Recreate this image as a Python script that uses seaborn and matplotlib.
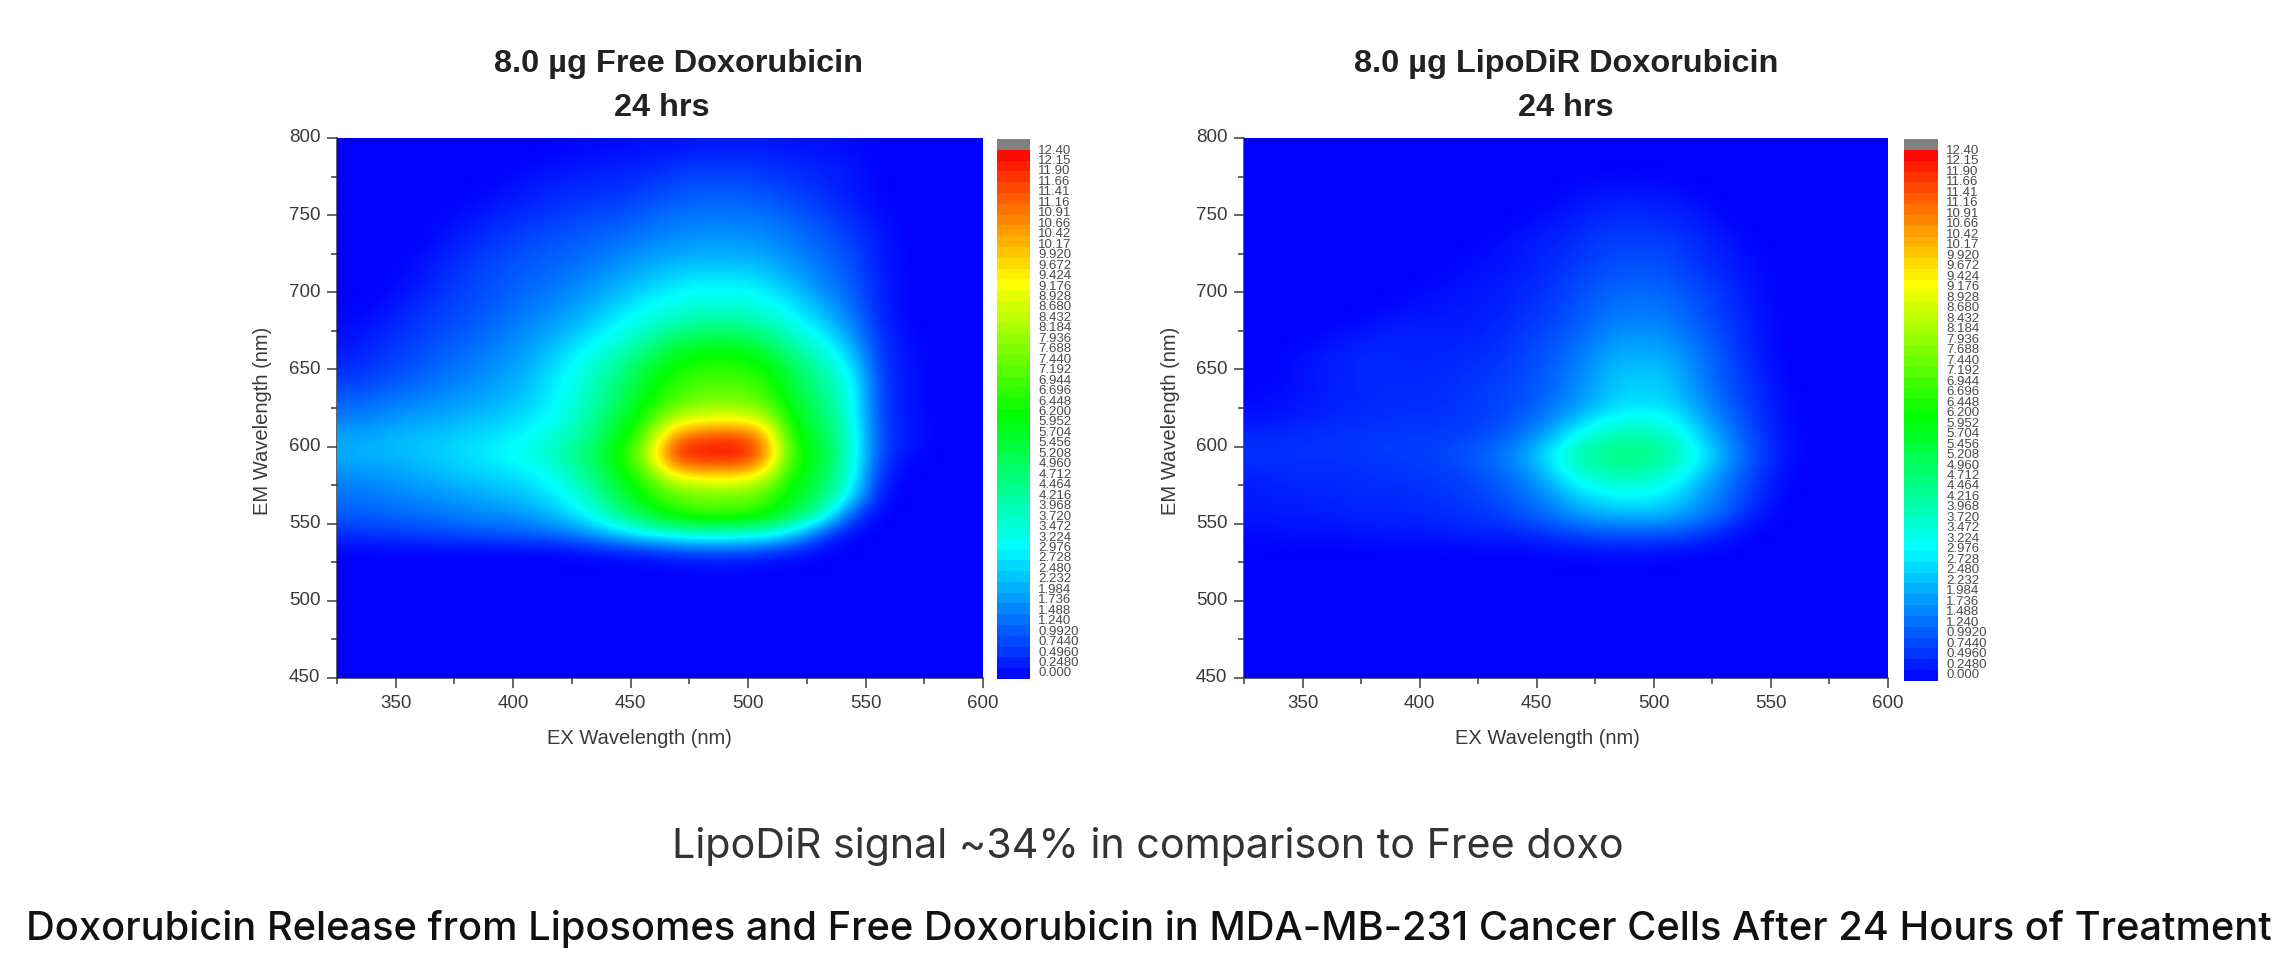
import numpy as np
import pandas as pd
import matplotlib
matplotlib.use("Agg")
import matplotlib.pyplot as plt
import seaborn as sns
from matplotlib.colors import LinearSegmentedColormap

# cell centres of the excitation / emission grid, nm
EX_NM = [331.25, 343.75, 356.25, 368.75, 381.25, 393.75, 406.25, 418.75, 431.25, 443.75, 456.25,
         468.75, 481.25, 493.75, 506.25, 518.75, 531.25, 543.75, 556.25, 568.75, 581.25, 593.75]
EM_NM = [793.75, 781.25, 768.75, 756.25, 743.75, 731.25, 718.75, 706.25, 693.75, 681.25, 668.75,
         656.25, 643.75, 631.25, 618.75, 606.25, 593.75, 581.25, 568.75, 556.25, 543.75, 531.25,
         518.75, 506.25, 493.75, 481.25, 468.75, 456.25]

BLANK = [0] * 22

FREE_DOXO = [
    [0, 0, 0, 0, 0, 0, 0, 0, .1, .1, .2, .2, .3, .3, .3, .2, .2, .1, 0, 0, 0, 0],
    [0, 0, 0, 0, 0, 0, .1, .2, .3, .4, .4, .6, .7, .7, .6, .5, .4, .3, 0, 0, 0, 0],
    [0, 0, 0, 0, 0, .1, .3, .4, .5, .5, .7, .9, 1, 1, .9, .7, .5, .3, 0, 0, 0, 0],
    [0, 0, 0, 0, .1, .3, .4, .6, .7, .8, 1, 1.2, 1.3, 1.3, 1.2, 1, .7, .4, .1, 0, 0, 0],
    [0, 0, 0, .1, .3, .5, .7, .8, 1, 1.1, 1.3, 1.5, 1.6, 1.6, 1.5, 1.3, 1, .6, .2, 0, 0, 0],
    [0, 0, 0, .2, .5, .7, .9, 1.1, 1.2, 1.4, 1.6, 1.8, 1.9, 1.9, 1.8, 1.5, 1.2, .8, .3, 0, 0, 0],
    [0, 0, .1, .4, .7, .9, 1.1, 1.2, 1.4, 1.7, 2, 2.2, 2.3, 2.3, 2.2, 1.8, 1.4, 1, .3, 0, 0, 0],
    [0, 0, .2, .5, .8, 1, 1.2, 1.4, 1.7, 2, 2.4, 2.7, 2.9, 2.9, 2.7, 2.2, 1.6, 1.1, .4, 0, 0, 0],
    [0, .1, .4, .7, .9, 1.1, 1.4, 1.6, 2, 2.4, 2.9, 3.2, 3.4, 3.4, 3.2, 2.7, 2, 1.3, .4, 0, 0, 0],
    [.1, .3, .6, .8, 1, 1.3, 1.6, 1.9, 2.3, 2.9, 3.4, 3.9, 4.2, 4.2, 3.9, 3.2, 2.5, 1.6, .5, 0, 0, 0],
    [.2, .5, .7, 1, 1.2, 1.5, 1.8, 2.2, 2.8, 3.4, 4.1, 5, 5.4, 5.4, 5, 3.9, 3.2, 2, .6, .1, 0, 0],
    [.4, .7, .9, 1.2, 1.4, 1.7, 2, 2.6, 3.3, 4, 5, 6, 6.3, 6.3, 6, 4.8, 3.8, 2.7, .6, .2, 0, 0],
    [.7, .9, 1.1, 1.4, 1.6, 1.9, 2.2, 2.9, 3.6, 4.5, 5.7, 6.5, 6.9, 6.9, 6.6, 5.3, 4.2, 3.2, .7, .2, 0, 0],
    [1.1, 1.3, 1.5, 1.7, 1.9, 2.1, 2.4, 3, 3.7, 4.8, 5.9, 6.9, 7.4, 7.4, 7.1, 5.6, 4.6, 3.4, .7, .2, 0, 0],
    [1.5, 1.7, 1.9, 2, 2.2, 2.4, 2.7, 3.2, 4, 5.2, 6.4, 8.2, 8.7, 8.8, 8.4, 6, 4.9, 3.5, .7, .2, 0, 0],
    [2, 2.1, 2.3, 2.4, 2.6, 2.8, 3.1, 3.6, 4.4, 5.6, 7.2, 10.8, 11.3, 11.5, 10.8, 6.2, 5.3, 3.7, .8, .3, 0, 0],
    [2.1, 2.2, 2.3, 2.5, 2.7, 3, 3.3, 3.9, 4.8, 6, 8, 11.9, 12, 12.1, 11.3, 6.6, 5.5, 3.7, .7, .1, 0, 0],
    [1.7, 1.8, 2, 2.2, 2.4, 2.6, 2.8, 3.3, 4.3, 5.6, 6.8, 9.2, 9.5, 9.6, 9, 6.1, 5.3, 3.5, .4, 0, 0, 0],
    [1.4, 1.5, 1.7, 1.8, 2, 2.2, 2.4, 2.9, 3.7, 5.1, 6.3, 7.1, 7.4, 7.4, 7.1, 5.8, 4.9, 3, .1, 0, 0, 0],
    [1.1, 1.2, 1.3, 1.4, 1.6, 1.7, 1.9, 2.3, 3.1, 4.2, 5.5, 6.5, 6.9, 6.9, 6.5, 5.3, 4.1, 1, 0, 0, 0, 0],
    [.6, .7, .8, .9, 1, 1.1, 1.2, 1.4, 1.8, 2.5, 3.1, 3.6, 3.8, 3.7, 3.5, 2.7, .9, 0, 0, 0, 0, 0],
    [0, 0, 0, 0, 0, 0, 0, 0, .1, .2, .3, .5, .7, .7, .5, .2, 0, 0, 0, 0, 0, 0],
] + [BLANK] * 6

LIPO_DOXO = [
    BLANK,
    BLANK,
    [0, 0, 0, 0, 0, 0, 0, 0, 0, 0, 0, .1, .2, .2, .1, 0, 0, 0, 0, 0, 0, 0],
    [0, 0, 0, 0, 0, 0, 0, 0, 0, 0, .1, .3, .4, .4, .4, .2, 0, 0, 0, 0, 0, 0],
    [0, 0, 0, 0, 0, 0, 0, 0, 0, .1, .3, .4, .6, .6, .5, .4, .1, 0, 0, 0, 0, 0],
    [0, 0, 0, 0, 0, 0, 0, 0, .1, .3, .4, .6, .8, .8, .8, .5, .3, 0, 0, 0, 0, 0],
    [0, 0, 0, 0, 0, 0, 0, .1, .2, .3, .5, .7, .9, 1, .9, .6, .4, .1, 0, 0, 0, 0],
    [0, 0, 0, 0, 0, 0, .1, .2, .3, .4, .6, .9, 1.1, 1.2, 1.1, .8, .5, .2, 0, 0, 0, 0],
    [0, 0, 0, 0, 0, .1, .2, .3, .3, .5, .7, 1, 1.3, 1.4, 1.3, 1, .6, .2, 0, 0, 0, 0],
    [0, 0, 0, 0, .2, .3, .3, .3, .4, .6, .8, 1.1, 1.5, 1.6, 1.5, 1.1, .7, .3, 0, 0, 0, 0],
    [0, 0, .1, .3, .4, .4, .4, .4, .5, .7, 1, 1.3, 1.8, 1.9, 1.8, 1.3, .8, .3, 0, 0, 0, 0],
    [0, .1, .3, .4, .5, .4, .4, .5, .6, .8, 1.1, 1.5, 2.1, 2.2, 2.1, 1.5, .9, .4, 0, 0, 0, 0],
    [0, .1, .3, .4, .5, .5, .5, .6, .7, .9, 1.2, 1.7, 2.3, 2.5, 2.4, 1.6, 1, .5, 0, 0, 0, 0],
    [.1, .2, .3, .4, .5, .5, .5, .6, .8, .9, 1.3, 1.8, 2.4, 2.6, 2.5, 1.8, 1.1, .6, .1, 0, 0, 0],
    [.2, .3, .4, .5, .5, .6, .6, .7, .8, 1.1, 1.6, 2.3, 3, 3.2, 3.1, 2.2, 1.3, .7, .1, 0, 0, 0],
    [.5, .5, .6, .6, .7, .7, .7, .8, 1, 1.4, 2.2, 3.4, 4, 4.1, 3.8, 2.7, 1.6, .8, .2, 0, 0, 0],
    [.6, .6, .6, .6, .7, .7, .8, 1, 1.3, 1.9, 3, 4.2, 4.6, 4.7, 4.3, 3.2, 1.9, .9, .2, 0, 0, 0],
    [.4, .5, .5, .5, .6, .6, .7, .8, 1.1, 1.5, 2.4, 3.5, 3.9, 3.9, 3.5, 2.5, 1.5, .7, .1, 0, 0, 0],
    [.3, .4, .4, .5, .5, .5, .6, .7, .9, 1.3, 1.8, 2.6, 3, 3.1, 2.8, 2, 1.3, .6, 0, 0, 0, 0],
    [.3, .3, .3, .4, .4, .4, .5, .6, .7, 1, 1.4, 1.9, 2.2, 2.3, 2.2, 1.7, 1.1, .3, 0, 0, 0, 0],
    [.1, .2, .2, .2, .3, .3, .3, .4, .4, .5, .7, .9, 1, 1, 1, .8, .3, 0, 0, 0, 0, 0],
    [0, 0, 0, 0, 0, 0, 0, 0, 0, 0, .1, .1, .2, .2, .1, 0, 0, 0, 0, 0, 0, 0],
] + [BLANK] * 6

LEVEL_LABELS = ["12.40", "12.15", "11.90", "11.66", "11.41", "11.16", "10.91", "10.66", "10.42", "10.17",
                "9.920", "9.672", "9.424", "9.176", "8.928", "8.680", "8.432", "8.184", "7.936", "7.688",
                "7.440", "7.192", "6.944", "6.696", "6.448", "6.200", "5.952", "5.704", "5.456", "5.208",
                "4.960", "4.712", "4.464", "4.216", "3.968", "3.720", "3.472", "3.224", "2.976", "2.728",
                "2.480", "2.232", "1.984", "1.736", "1.488", "1.240", "0.9920", "0.7440", "0.4960", "0.2480",
                "0.000"]
EX_TICKS = [350, 400, 450, 500, 550, 600]
EX_MINOR = [325, 375, 425, 475, 525, 575]
EM_TICKS = [450, 500, 550, 600, 650, 700, 750, 800]
EM_MINOR = [475, 525, 575, 625, 675, 725, 775]

W, H = 2276, 961
TEXT_COL = "#3a3a3a"

sns.set_theme(style="ticks")
plt.rcParams["font.family"] = ["Liberation Sans", "DejaVu Sans"]

cmap = LinearSegmentedColormap.from_list("ex_em", ["#0000ff", "#00ffff", "#00ff00", "#ffff00", "#ff0000"], N=512)
cmap_bar = cmap.copy()
cmap_bar.set_over("#808080")
cmap_map = cmap.copy()
cmap_map.set_over("#ff0000")
VMAX = 12.15


def box(x0, y0, x1, y1):
    return [x0 / W, 1 - y1 / H, (x1 - x0) / W, (y1 - y0) / H]


def draw_panel(fig, values, pos, cpos, title, title_x, hrs_x, xlabel_x, ylabel_x):
    ax = fig.add_axes(box(*pos))
    df = pd.DataFrame(values, index=EM_NM, columns=EX_NM)
    sns.heatmap(df, ax=ax, cmap=cmap_map, vmin=0, vmax=VMAX, cbar=False)
    # smooth layer on the same cells, the instrument software renders contours
    ax.imshow(df.values, cmap=cmap_map, vmin=0, vmax=VMAX, aspect="auto", interpolation="bicubic",
              extent=(0, len(EX_NM), len(EM_NM), 0), zorder=3)
    ax.set_xlim(0, len(EX_NM))
    ax.set_ylim(len(EM_NM), 0)

    to_x = lambda v: (np.array(v) - 325) / 12.5
    to_y = lambda v: (800 - np.array(v)) / 12.5
    ax.set_xticks(to_x(EX_TICKS), [str(v) for v in EX_TICKS], rotation=0)
    ax.set_xticks(to_x(EX_MINOR), minor=True)
    ax.set_yticks(to_y(EM_TICKS), [str(v) for v in EM_TICKS], rotation=0)
    ax.set_yticks(to_y(EM_MINOR), minor=True)
    ax.tick_params(axis="both", which="major", length=7, width=1.1, labelsize=13.5, colors=TEXT_COL, pad=5)
    ax.tick_params(axis="both", which="minor", length=4, width=1.1, color=TEXT_COL)
    for side in ["left", "bottom"]:
        ax.spines[side].set_visible(True)
        ax.spines[side].set_color(TEXT_COL)
        ax.spines[side].set_linewidth(1.1)
    ax.set_xlabel("EX Wavelength (nm)", fontsize=14.5, color=TEXT_COL, va="center")
    ax.set_ylabel("EM Wavelength (nm)", fontsize=14.5, color=TEXT_COL, va="center")
    ax.xaxis.set_label_coords(xlabel_x / W, 1 - 739 / H, transform=fig.transFigure)
    ax.yaxis.set_label_coords(ylabel_x / W, 1 - 421 / H, transform=fig.transFigure)

    fig.text(title_x / W, 1 - 64 / H, title, ha="center", va="center", fontsize=23.4, fontweight="bold", color="#222222")
    fig.text(hrs_x / W, 1 - 108 / H, "24 hrs", ha="center", va="center", fontsize=23.4, fontweight="bold", color="#222222")

    # colour scale, one cell per contour band, the top band is the grey over-range
    cax = fig.add_axes(box(*cpos))
    levels = [float(s) for s in LEVEL_LABELS]
    mids = [(a + b) / 2 for a, b in zip(levels[:-1], levels[1:])]
    sns.heatmap(pd.DataFrame({"z": mids}), ax=cax, cmap=cmap_bar, vmin=0, vmax=VMAX, cbar=False,
                xticklabels=False, yticklabels=False)
    cax.yaxis.tick_right()
    cax.set_yticks(np.linspace(0.93, 49.35, len(LEVEL_LABELS)), LEVEL_LABELS, rotation=0)
    cax.tick_params(axis="y", length=0, pad=6, labelsize=9.5, labelcolor="#4a4a4a")
    cax.set_ylabel("")


fig = plt.figure(figsize=(W / 100, H / 100), dpi=100, facecolor="white")

draw_panel(fig, FREE_DOXO, (337, 138, 983, 678), (997, 139, 1030, 679),
           "8.0 µg Free Doxorubicin", 678, 662, 639, 263)
draw_panel(fig, LIPO_DOXO, (1244, 138, 1888, 678), (1904, 139, 1938, 681),
           "8.0 µg LipoDiR Doxorubicin", 1566, 1566, 1547, 1170)

fig.text(1148 / W, 1 - 846 / H, "LipoDiR signal ~34% in comparison to Free doxo", ha="center", va="center",
         fontsize=29.7, family=["Inter", "DejaVu Sans"], color="#333333")
fig.text(1149 / W, 1 - 929 / H,
         "Doxorubicin Release from Liposomes and Free Doxorubicin in MDA-MB-231 Cancer Cells After 24 Hours of Treatment",
         ha="center", va="center", fontsize=28.7, fontweight="medium", family=["Inter", "DejaVu Sans"], color="#111111")

fig.savefig("out.png", dpi=100)
plt.close(fig)
